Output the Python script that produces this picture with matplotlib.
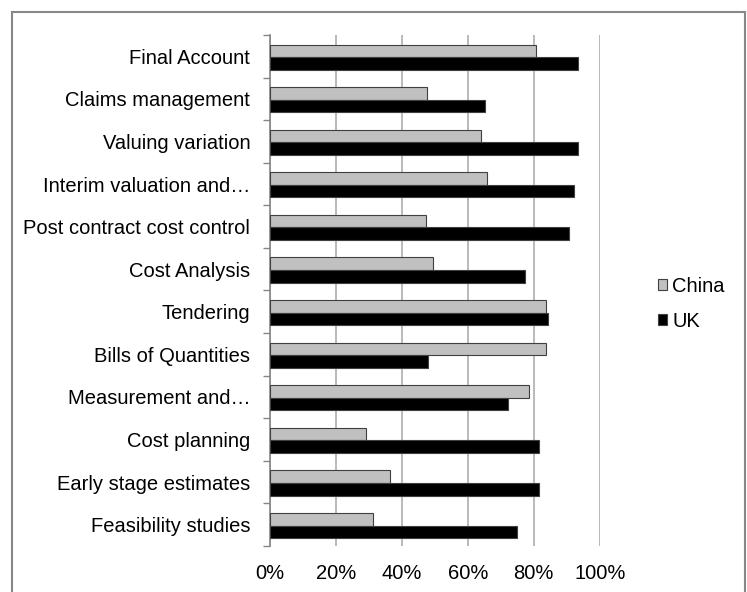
import matplotlib
matplotlib.use("Agg")
import matplotlib.pyplot as plt
import numpy as np
from matplotlib.patches import Rectangle
from matplotlib.ticker import FixedLocator

categories = ["Final Account", "Claims management", "Valuing variation",
              "Interim valuation and\u2026", "Post contract cost control",
              "Cost Analysis", "Tendering", "Bills of Quantities",
              "Measurement and\u2026", "Cost planning", "Early stage estimates",
              "Feasibility studies"]
china = [0.808, 0.477, 0.641, 0.658, 0.473, 0.496, 0.838, 0.838, 0.785, 0.292, 0.366, 0.312]
uk = [0.933, 0.653, 0.933, 0.921, 0.907, 0.775, 0.842, 0.481, 0.722, 0.816, 0.816, 0.748]
xticks = [0, 0.2, 0.4, 0.6, 0.8, 1.0]
xticklabels = ["0%", "20%", "40%", "60%", "80%", "100%"]

plt.rcParams['font.family'] = ['Liberation Sans', 'DejaVu Sans']
FS = 14.5

fig = plt.figure(figsize=(7.47, 5.92), dpi=100)
ax = fig.add_axes([269.7/747, 1-546/592, 330/747, (546-35)/592])

y = np.arange(len(categories))
h = 0.295
ax.barh(y - h/2 + 0.02, china, height=h, color='#c0c0c0', edgecolor='#404040', linewidth=0.8, label='China', zorder=3)
ax.barh(y + h/2 + 0.02, uk, height=h, color='#000000', edgecolor='#404040', linewidth=0.8, label='UK', zorder=3)

ax.set_ylim(len(categories) - 0.5, -0.5)
ax.set_xlim(0, 1.0)

ax.set_xticks(xticks)
ax.set_xticklabels(xticklabels, fontsize=FS)
ax.tick_params(axis='x', length=0, pad=13)
ax.grid(axis='x', color='#b4b4b4', linewidth=1.3, zorder=0)

ax.yaxis.set_major_locator(FixedLocator(np.arange(-0.5, len(categories) + 0.5, 1)))
ax.yaxis.set_minor_locator(FixedLocator(y))
ax.set_yticklabels([], minor=False)
ax.set_yticklabels(categories, minor=True, fontsize=FS)
ax.tick_params(axis='y', which='major', length=5, color='#868686', width=1)
ax.tick_params(axis='y', which='minor', length=0, pad=14)

for s in ['top', 'right', 'bottom']:
    ax.spines[s].set_visible(False)
ax.spines['left'].set_color('#868686')
ax.spines['left'].set_linewidth(1.2)

leg = ax.legend(loc='center left', bbox_to_anchor=(650/747, 1-304/592),
                bbox_transform=fig.transFigure, frameon=False, fontsize=FS,
                handlelength=0.45, handleheight=0.45, handletextpad=0.25,
                labelspacing=0.8, borderaxespad=0)

fig.patches.append(Rectangle((12/747, -0.01), (745-12)/747, 1 - 12/592 + 0.01,
                             transform=fig.transFigure, fill=False,
                             edgecolor='#888888', linewidth=1.5))

fig.savefig('out.png', dpi=100)
